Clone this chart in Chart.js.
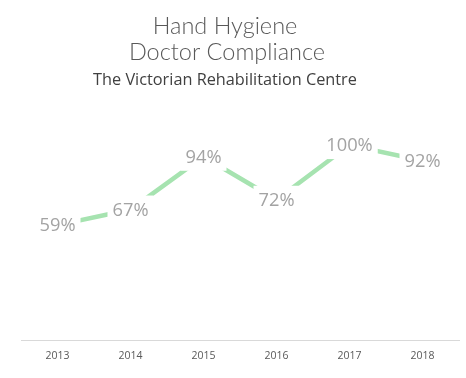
<!DOCTYPE html>
<html>
<head>
<meta charset="utf-8">
<script src="https://cdn.jsdelivr.net/npm/chart.js@4.4.0/dist/chart.umd.min.js"></script>
<style>
html,body{margin:0;padding:0;background:#fff;}
#wrap{width:466px;height:378px;}
</style>
</head>
<body>
<div id="wrap"><canvas id="c" width="466" height="378"></canvas></div>
<script>
const years = ['2013','2014','2015','2016','2017','2018'];
const compliance = [59, 67, 94, 72, 100, 92];
const titleLines = ['Hand Hygiene', 'Doctor Compliance'];
const subtitleText = 'The Victorian Rehabilitation Centre';

const headerPlugin = {
  id: 'header',
  afterDraw(chart) {
    const ctx = chart.ctx;
    ctx.save();
    ctx.textAlign = 'center';
    ctx.textBaseline = 'alphabetic';
    ctx.fillStyle = '#595959';
    ctx.font = '300 23.5px Lato, sans-serif';
    ctx.fillText(titleLines[0], 225, 34);
    ctx.fillText(titleLines[1], 227, 60);
    ctx.fillStyle = '#404040';
    ctx.font = '16.3px "Open Sans", sans-serif';
    ctx.fillText(subtitleText, 225, 84.5);
    ctx.restore();
  }
};

const labelPlugin = {
  id: 'pointLabels',
  afterDatasetsDraw(chart) {
    const ctx = chart.ctx;
    const meta = chart.getDatasetMeta(0);
    ctx.save();
    ctx.font = '18.3px "Open Sans", sans-serif';
    ctx.textAlign = 'center';
    ctx.textBaseline = 'middle';
    meta.data.forEach((pt, i) => {
      const txt = compliance[i] + '%';
      const w = ctx.measureText(txt).width;
      const h = 28;
      ctx.fillStyle = '#ffffff';
      ctx.fillRect(pt.x - w / 2 - 5, pt.y - h / 2, w + 10, h);
      ctx.fillStyle = '#a3a3a3';
      ctx.fillText(txt, pt.x, pt.y + 1);
    });
    ctx.restore();
  }
};

new Chart(document.getElementById('c'), {
  type: 'line',
  data: {
    labels: years,
    datasets: [{
      data: compliance,
      borderColor: '#a6e3b0',
      borderWidth: 4.5,
      pointRadius: 0,
      tension: 0,
      fill: false
    }]
  },
  options: {
    responsive: false,
    animation: false,
    devicePixelRatio: 1,
    layout: { padding: { left: 21, right: 7, top: 106, bottom: 15 } },
    plugins: {
      legend: { display: false },
      tooltip: { enabled: false },
      title: { display: false },
      subtitle: { display: false }
    },
    scales: {
      x: {
        offset: true,
        grid: { display: false },
        border: { display: true, color: '#d9d9d9', width: 1 },
        ticks: { color: '#595959', font: { family: '"Open Sans", sans-serif', size: 10.5 }, padding: 1 }
      },
      y: {
        display: false,
        min: 0,
        max: 120
      }
    }
  },
  plugins: [labelPlugin, headerPlugin]
});
</script>
</body>
</html>
